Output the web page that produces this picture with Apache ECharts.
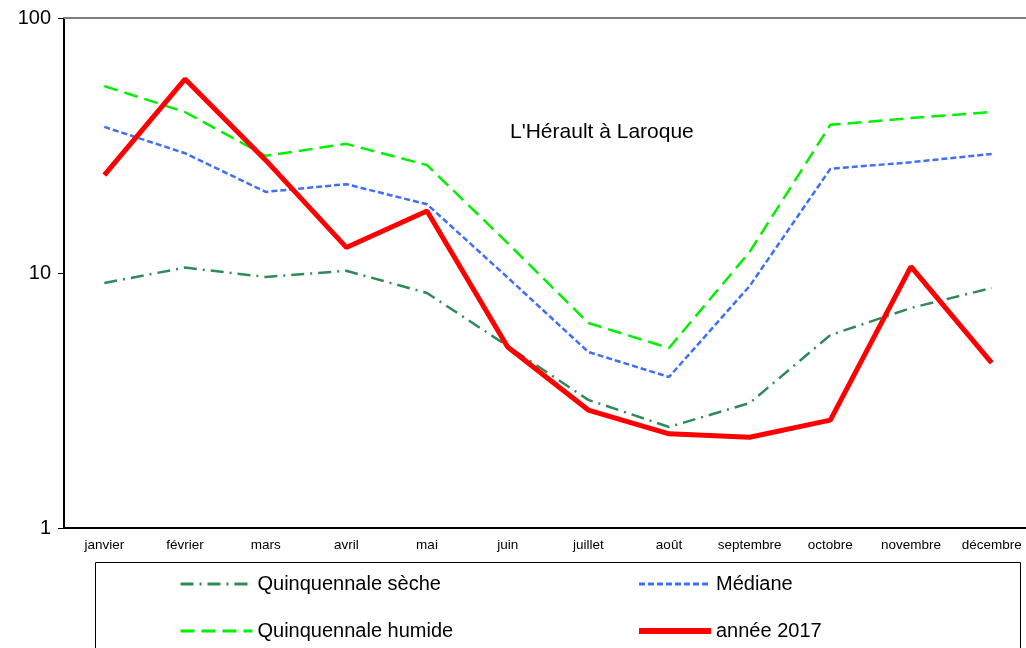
<!DOCTYPE html>
<html><head><meta charset="utf-8">
<script src="https://cdn.jsdelivr.net/npm/echarts@6/dist/echarts.min.js"></script>
<style>html,body{margin:0;padding:0;background:#fff;overflow:hidden;width:1026px;height:648px}#c{width:1034px;height:648px}</style>
</head><body><div id="c"></div>
<script>
const months = ['janvier','février','mars','avril','mai','juin','juillet','août','septembre','octobre','novembre','décembre'];
const seche = [9.14,10.5,9.65,10.2,8.35,5.17,3.18,2.49,3.09,5.71,7.29,8.74];
const mediane = [37.4,29.5,20.8,22.3,18.6,9.6,4.9,3.91,8.89,25.6,27.2,29.3];
const humide = [54.1,42.8,28.8,32.1,26.5,13.1,6.37,5.08,12.1,38.1,40.5,42.8];
const annee2017 = [24.2,57.6,27.7,12.6,17.5,5.13,2.9,2.34,2.27,2.65,10.6,4.44];
const chartTitle = "L'Hérault à Laroque";
const names = ['Quinquennale sèche','Médiane','Quinquennale humide','année 2017'];

const FONT = 'Liberation Sans, Arial, sans-serif';
const C = {seche:'#2E8B57', med:'#3F6FF5', hum:'#00F000', an:'#FF0000'};
const chart = echarts.init(document.getElementById('c'), null, {renderer:'canvas'});
const legText = {fontFamily:FONT,fontSize:20,color:'#000',lineHeight:20};
chart.setOption({
  animation:false,
  backgroundColor:'#fff',
  title:{text:chartTitle,left:510,top:122,padding:0,textStyle:{fontFamily:FONT,fontSize:21,fontWeight:'normal',color:'#000'}},
  grid:{left:64,top:18,width:968,height:510,containLabel:false},
  xAxis:[{
    type:'category',data:months,boundaryGap:true,position:'bottom',
    axisLine:{lineStyle:{color:'#000',width:2}},
    axisTick:{inside:true,length:5,lineStyle:{color:'#000',width:1}},
    axisLabel:{color:'#000',fontFamily:FONT,fontSize:13.5,margin:10,interval:0},
    splitLine:{show:false}
  },{
    type:'category',data:months,position:'top',
    axisLine:{lineStyle:{color:'#808080',width:2}},
    axisTick:{show:false},axisLabel:{show:false},splitLine:{show:false}
  }],
  yAxis:{
    type:'log',logBase:10,min:1,max:100,
    axisLine:{show:true,lineStyle:{color:'#000',width:2}},
    axisTick:{show:true,inside:false,length:6,lineStyle:{color:'#000'}},
    axisLabel:{color:'#000',fontFamily:FONT,fontSize:20,margin:13},
    splitLine:{show:false},minorTick:{show:false}
  },
  legend:[{
    data:[{name:names[0],lineStyle:{width:3}},{name:names[2],lineStyle:{width:3}}],
    orient:'vertical',left:179,top:574,padding:0,
    itemWidth:72,itemHeight:20,itemGap:27,itemStyle:{opacity:0},
    textStyle:legText
  },{
    data:[{name:names[1],lineStyle:{width:3}},{name:names[3],lineStyle:{width:6}}],
    orient:'vertical',left:636,top:574,padding:0,
    itemWidth:72,itemHeight:20,itemGap:27,itemStyle:{opacity:0},
    textStyle:legText
  }],
  graphic:[{type:'rect',shape:{x:95.5,y:562.5,width:925,height:120},style:{fill:'none',stroke:'#000',lineWidth:1},silent:true,z:-1}],
  series:[
    {name:names[0],type:'line',data:seche,symbol:'none',color:C.seche,lineStyle:{color:C.seche,width:2.5,type:[13,6,2,6]}},
    {name:names[1],type:'line',data:mediane,symbol:'none',color:C.med,lineStyle:{color:C.med,width:2.5,type:[6,3]}},
    {name:names[2],type:'line',data:humide,symbol:'none',color:C.hum,lineStyle:{color:C.hum,width:2.5,type:[14,7]}},
    {name:names[3],type:'line',data:annee2017,symbol:'none',color:C.an,lineStyle:{color:C.an,width:5}}
  ]
});
</script></body></html>
